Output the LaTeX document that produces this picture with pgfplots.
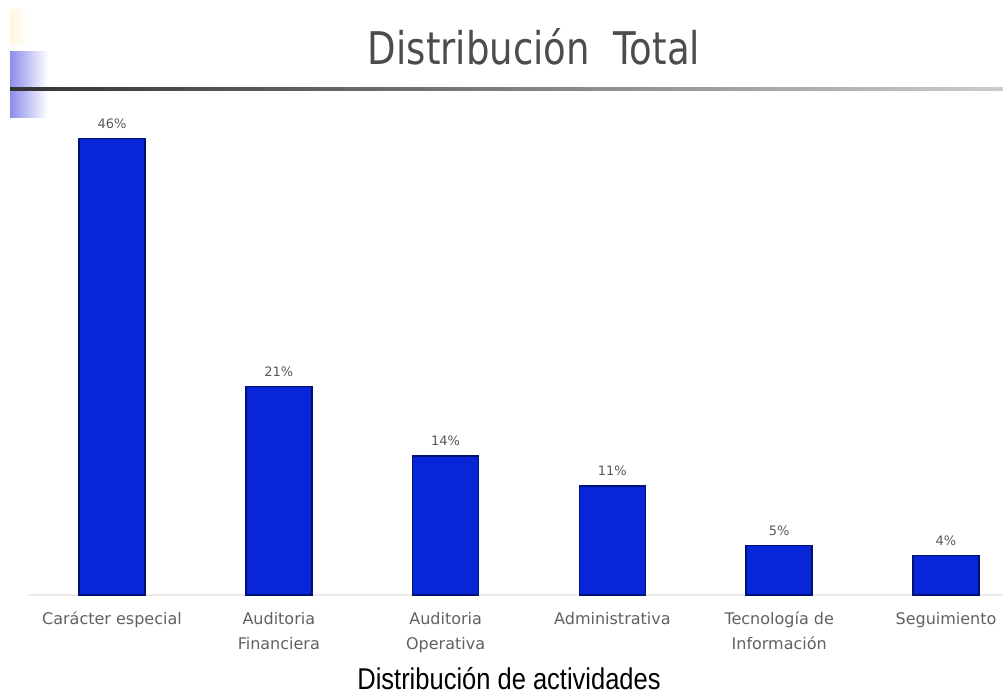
\documentclass[border=0pt]{standalone}
\usepackage{pgfplots}
\pgfplotsset{compat=1.18}
\usepackage{fontspec}
\setmainfont{DejaVu Sans}
\newfontfamily\dv{DejaVu Sans}
\newfontfamily\narrow[FakeStretch=0.85]{Liberation Sans}
\definecolor{barfill}{RGB}{8,38,215}
\definecolor{bardraw}{RGB}{0,18,115}
\definecolor{lav}{RGB}{140,140,235}
\newcommand\st{\vphantom{áí}}
\begin{document}
\begin{tikzpicture}[x=1pt,y=1pt]
\path[use as bounding box] (0,0) rectangle (1003,694);
% slide decorations
\shade[left color={rgb,255:red,255;green,246;blue,220}, right color=white] (10,649) rectangle (28,684);
\shade[left color=lav, right color=white] (10,576) rectangle (48,642);
\shade[left color=black!80, right color=black!20] (10,603.5) rectangle (1003,606.5);
\node[anchor=base, text=black!70] at (534,629) {\resizebox{332pt}{36pt}{\dv Distribución\ \ Total}};
\begin{axis}[
  at={(28pt,99pt)}, anchor=south west,
  scale only axis, width=975pt, height=496pt,
  xmin=-0.5036, xmax=5.3417, ymin=0, ymax=50,
  clip=false,
  axis y line=none,
  axis x line*=bottom,
  x axis line style={draw=black!8, line width=1.5pt, -},
  xtick=data,
  xticklabels={{\st Carácter especial},{\st Auditoria\\Financiera},{\st Auditoria\\Operativa},{\st Administrativa},{\st Tecnología de\\Información},{\st Seguimiento}},
  xticklabel style={align=center, font=\dv\fontsize{16}{25}\selectfont, text=black!62, yshift=-13pt},
  major tick length=0pt,
  ybar, bar width=0.396,
  /pgf/number format/assume math mode=true,
  nodes near coords={\pgfmathprintnumber{\pgfplotspointmeta}\%},
  every node near coord/.append style={font=\dv\fontsize{13}{15}\selectfont, text=black!65, yshift=6pt},
]
\addplot[draw=bardraw, line width=1.6pt, fill=barfill]
  coordinates {(0,46) (1,21) (2,14) (3,11) (4,5) (5,4)};
\end{axis}
\node[anchor=base] at (509,5) {\narrow\fontsize{30}{34}\selectfont Distribución de actividades};
\end{tikzpicture}
\end{document}
